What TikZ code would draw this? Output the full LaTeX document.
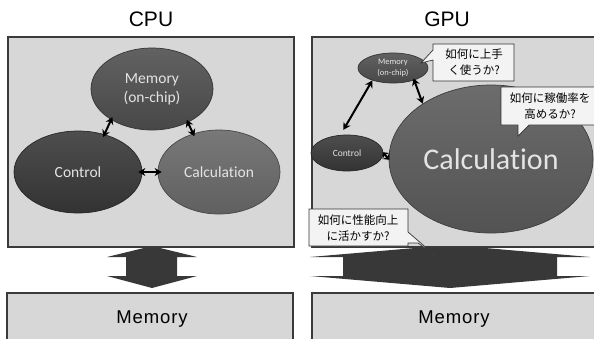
\documentclass[tikz,border=0pt]{standalone}
\usepackage{fontspec}
\setmainfont{Liberation Sans}
\newfontfamily\ovalfont[Ligatures=NoCommon]{Carlito}
\newfontfamily\jpfont{Noto Sans CJK JP}
\newfontfamily\memfont[LetterSpace=5]{Liberation Sans}
\usetikzlibrary{shapes.geometric,arrows.meta,shadows}
\definecolor{panelfill}{HTML}{D7D7D7}
\definecolor{panelline}{HTML}{3A3A3A}
\definecolor{ovaltext}{HTML}{E4E4E4}
\definecolor{bigarrow}{HTML}{383838}
\definecolor{notefill}{HTML}{F3F3F3}
\definecolor{memc}{HTML}{4C4C4C}
\definecolor{ctlc}{HTML}{363636}
\definecolor{calcc}{HTML}{666666}
\definecolor{gcalcc}{HTML}{585858}
\begin{document}
\begin{tikzpicture}[x=1pt,y=-1pt,
  panel/.style={fill=panelfill,draw=panelline,line width=1.2pt,
    drop shadow={shadow xshift=1pt,shadow yshift=-1pt,opacity=0.35}},
  oval/.style={ellipse,inner sep=0pt,draw=#1!70!black,line width=0.7pt,
    top color=#1!88!white,bottom color=#1!94!black,text=ovaltext,align=center},
  title/.style={font=\fontsize{21}{24}\selectfont},
  dbl/.style={{Stealth[length=7pt,width=8pt]}-{Stealth[length=7pt,width=8pt]},line width=2pt},
  note/.style={fill=notefill,draw=black!80,line width=0.7pt},
  notetext/.style={font=\jpfont\fontsize{11.5}{15.5}\selectfont,align=center},
  bigshape/.style={fill=bigarrow},
  memtext/.style={font=\memfont\fontsize{18.5}{22}\selectfont}]
\clip (0,0) rectangle (594,338);
\fill[white] (0,0) rectangle (594,338);

% titles
\node[title] (tcpu) at (151,19) {CPU};
\node[title] (tgpu) at (447,19) {GPU};

% wide double arrows between the chips and main memory
\fill[bigshape] (152,246) -- (197,257) -- (177,257) -- (177,276) -- (197,276)
  -- (152,288) -- (107,276) -- (126,276) -- (126,257) -- (107,257) -- cycle;
\fill[bigshape] (450,245) -- (590,257) -- (557,257) -- (557,276) -- (590,276)
  -- (450,288) -- (310,276) -- (343,276) -- (343,257) -- (310,257) -- cycle;

% chip panels
\draw[panel] (8,37) rectangle (294,247);
\draw[panel] (312,37) rectangle (604,247);

% main memory boxes
\draw[panel] (7,293) rectangle (293,350);
\draw[panel] (312,293) rectangle (604,350);
\node[memtext] (mcpu) at (152,319) {Memory};
\node[memtext] (mgpu) at (454,319) {Memory};

% CPU: three balanced units
\node[oval=memc,minimum width=122pt,minimum height=82pt,
  font=\ovalfont\fontsize{15.5}{19}\selectfont] (cmem) at (152,89) {Memory\\(on-chip)};
\node[oval=ctlc,minimum width=128pt,minimum height=82pt,
  font=\ovalfont\fontsize{15.5}{19}\selectfont] (cctl) at (78,172) {Control};
\node[oval=calcc,minimum width=122pt,minimum height=84pt,
  font=\ovalfont\fontsize{15.5}{19}\selectfont] (ccalc) at (219,172) {Calculation};
\draw[dbl,shorten <=-3pt,shorten >=-3pt] (cmem.217) -- (cctl.55);
\draw[dbl,shorten <=-3pt,shorten >=-3pt] (cmem.317) -- (ccalc.124);
\draw[dbl,shorten <=-4pt,shorten >=-4pt] (cctl.east) -- (ccalc.west);

% GPU: calculation dominates
\node[oval=gcalcc,minimum width=204pt,minimum height=148pt,
  font=\ovalfont\fontsize{30}{34}\selectfont] (gcalc) at (491,159) {Calculation};
\node[oval=memc,minimum width=70pt,minimum height=30pt,
  font=\ovalfont\fontsize{8.5}{10.5}\selectfont] (gmem) at (393,68) {Memory\\(on-chip)};
\node[oval=ctlc,minimum width=72pt,minimum height=36pt,
  font=\ovalfont\fontsize{9.5}{11}\selectfont] (gctl) at (347,153) {Control};
\draw[dbl,shorten >=6pt] (gmem.211) -- (gctl.110);
\draw[dbl,shorten <=-2pt] (gmem.-30) -- (gcalc.141);
\draw[{Stealth[length=5pt,width=9pt]}-{Stealth[length=5pt,width=9pt]},line width=2pt,
  shorten <=-1pt,shorten >=-1pt]
  (gctl.east) -- (gcalc.west);

% callouts
\draw[note] (433,44) -- (514,44) -- (514,81) -- (433,81) -- (433,60)
  -- (421,63) -- (433,50) -- cycle;
\node[notetext] (q1) at (474,62) {如何に上手\\く使うか?};
\draw[note] (501,87) -- (604,87) -- (604,125) -- (529,125) -- (518,136)
  -- (518,125) -- (501,125) -- cycle;
\node[notetext] (q2) at (550,106) {如何に稼働率を\\高めるか?};
\draw[note] (309,209) -- (408,209) -- (408,232) -- (437,257) -- (418,243)
  -- (408,243) -- (408,246) -- (309,246) -- cycle;
\node[notetext] (q3) at (358,228) {如何に性能向上\\に活かすか?};
\end{tikzpicture}
\end{document}
